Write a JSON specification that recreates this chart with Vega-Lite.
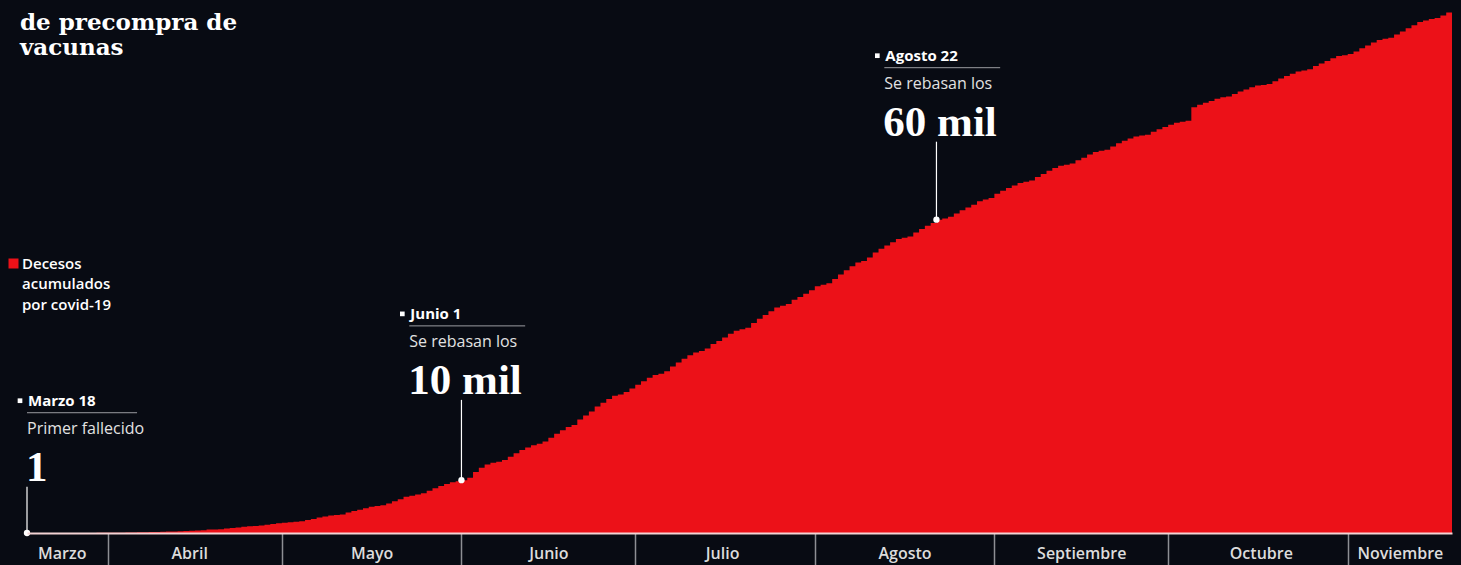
{
  "$schema": "https://vega.github.io/schema/vega-lite/v6.json",
  "width": 1425,
  "height": 533,
  "autosize": {"type": "none"},
  "padding": {"left": 27, "right": 9, "top": 0, "bottom": 32},
  "background": "#080b13",
  "config": {"view": {"stroke": null}},
  "title": {
    "text": ["de precompra de", "vacunas"],
    "anchor": "start",
    "frame": "group",
    "orient": "top",
    "offset": 0,
    "baseline": "top",
    "dx": -7,
    "dy": 60,
    "lineHeight": 25,
    "font": "DejaVu Serif",
    "fontSize": 23,
    "fontWeight": "bold",
    "color": "#ffffff"
  },
  "datasets": {
    "decesos": [
      {"fecha": "2020-03-18", "n": 1}, {"fecha": "2020-03-19", "n": 2}, {"fecha": "2020-03-20", "n": 2}, {"fecha": "2020-03-21", "n": 2},
      {"fecha": "2020-03-22", "n": 4}, {"fecha": "2020-03-23", "n": 4}, {"fecha": "2020-03-24", "n": 5}, {"fecha": "2020-03-25", "n": 6},
      {"fecha": "2020-03-26", "n": 8}, {"fecha": "2020-03-27", "n": 12}, {"fecha": "2020-03-28", "n": 16}, {"fecha": "2020-03-29", "n": 20},
      {"fecha": "2020-03-30", "n": 28}, {"fecha": "2020-03-31", "n": 29},
      {"fecha": "2020-04-01", "n": 37}, {"fecha": "2020-04-02", "n": 50}, {"fecha": "2020-04-03", "n": 60}, {"fecha": "2020-04-04", "n": 79},
      {"fecha": "2020-04-05", "n": 94}, {"fecha": "2020-04-06", "n": 125}, {"fecha": "2020-04-07", "n": 141}, {"fecha": "2020-04-08", "n": 174},
      {"fecha": "2020-04-09", "n": 194}, {"fecha": "2020-04-10", "n": 233}, {"fecha": "2020-04-11", "n": 273}, {"fecha": "2020-04-12", "n": 296},
      {"fecha": "2020-04-13", "n": 332}, {"fecha": "2020-04-14", "n": 406}, {"fecha": "2020-04-15", "n": 449}, {"fecha": "2020-04-16", "n": 486},
      {"fecha": "2020-04-17", "n": 546}, {"fecha": "2020-04-18", "n": 650}, {"fecha": "2020-04-19", "n": 686}, {"fecha": "2020-04-20", "n": 712},
      {"fecha": "2020-04-21", "n": 857}, {"fecha": "2020-04-22", "n": 970}, {"fecha": "2020-04-23", "n": 1069}, {"fecha": "2020-04-24", "n": 1221},
      {"fecha": "2020-04-25", "n": 1305}, {"fecha": "2020-04-26", "n": 1351}, {"fecha": "2020-04-27", "n": 1434}, {"fecha": "2020-04-28", "n": 1569},
      {"fecha": "2020-04-29", "n": 1732}, {"fecha": "2020-04-30", "n": 1859},
      {"fecha": "2020-05-01", "n": 1972}, {"fecha": "2020-05-02", "n": 2061}, {"fecha": "2020-05-03", "n": 2154}, {"fecha": "2020-05-04", "n": 2271},
      {"fecha": "2020-05-05", "n": 2507}, {"fecha": "2020-05-06", "n": 2704}, {"fecha": "2020-05-07", "n": 2961}, {"fecha": "2020-05-08", "n": 3160},
      {"fecha": "2020-05-09", "n": 3353}, {"fecha": "2020-05-10", "n": 3465}, {"fecha": "2020-05-11", "n": 3573}, {"fecha": "2020-05-12", "n": 3926},
      {"fecha": "2020-05-13", "n": 4220}, {"fecha": "2020-05-14", "n": 4477}, {"fecha": "2020-05-15", "n": 4767}, {"fecha": "2020-05-16", "n": 5045},
      {"fecha": "2020-05-17", "n": 5177}, {"fecha": "2020-05-18", "n": 5332}, {"fecha": "2020-05-19", "n": 5666}, {"fecha": "2020-05-20", "n": 6090},
      {"fecha": "2020-05-21", "n": 6510}, {"fecha": "2020-05-22", "n": 6989}, {"fecha": "2020-05-23", "n": 7179}, {"fecha": "2020-05-24", "n": 7394},
      {"fecha": "2020-05-25", "n": 7633}, {"fecha": "2020-05-26", "n": 8134}, {"fecha": "2020-05-27", "n": 8597}, {"fecha": "2020-05-28", "n": 9044},
      {"fecha": "2020-05-29", "n": 9415}, {"fecha": "2020-05-30", "n": 9779}, {"fecha": "2020-05-31", "n": 9930},
      {"fecha": "2020-06-01", "n": 10167}, {"fecha": "2020-06-02", "n": 10637}, {"fecha": "2020-06-03", "n": 11729}, {"fecha": "2020-06-04", "n": 12545},
      {"fecha": "2020-06-05", "n": 13170}, {"fecha": "2020-06-06", "n": 13511}, {"fecha": "2020-06-07", "n": 13699}, {"fecha": "2020-06-08", "n": 14053},
      {"fecha": "2020-06-09", "n": 14649}, {"fecha": "2020-06-10", "n": 15357}, {"fecha": "2020-06-11", "n": 15944}, {"fecha": "2020-06-12", "n": 16448},
      {"fecha": "2020-06-13", "n": 16872}, {"fecha": "2020-06-14", "n": 17141}, {"fecha": "2020-06-15", "n": 17580}, {"fecha": "2020-06-16", "n": 18310},
      {"fecha": "2020-06-17", "n": 19080}, {"fecha": "2020-06-18", "n": 19747}, {"fecha": "2020-06-19", "n": 20394}, {"fecha": "2020-06-20", "n": 20781},
      {"fecha": "2020-06-21", "n": 21825}, {"fecha": "2020-06-22", "n": 22584}, {"fecha": "2020-06-23", "n": 23377}, {"fecha": "2020-06-24", "n": 24324},
      {"fecha": "2020-06-25", "n": 25060}, {"fecha": "2020-06-26", "n": 25779}, {"fecha": "2020-06-27", "n": 26381}, {"fecha": "2020-06-28", "n": 26648},
      {"fecha": "2020-06-29", "n": 27121}, {"fecha": "2020-06-30", "n": 27769},
      {"fecha": "2020-07-01", "n": 28510}, {"fecha": "2020-07-02", "n": 29189}, {"fecha": "2020-07-03", "n": 29843}, {"fecha": "2020-07-04", "n": 30366},
      {"fecha": "2020-07-05", "n": 30639}, {"fecha": "2020-07-06", "n": 31119}, {"fecha": "2020-07-07", "n": 32014}, {"fecha": "2020-07-08", "n": 32796},
      {"fecha": "2020-07-09", "n": 33526}, {"fecha": "2020-07-10", "n": 34191}, {"fecha": "2020-07-11", "n": 34730}, {"fecha": "2020-07-12", "n": 35006},
      {"fecha": "2020-07-13", "n": 35491}, {"fecha": "2020-07-14", "n": 36327}, {"fecha": "2020-07-15", "n": 36906}, {"fecha": "2020-07-16", "n": 37574},
      {"fecha": "2020-07-17", "n": 38310}, {"fecha": "2020-07-18", "n": 38888}, {"fecha": "2020-07-19", "n": 39184}, {"fecha": "2020-07-20", "n": 39485},
      {"fecha": "2020-07-21", "n": 40400}, {"fecha": "2020-07-22", "n": 41190}, {"fecha": "2020-07-23", "n": 41908}, {"fecha": "2020-07-24", "n": 42645},
      {"fecha": "2020-07-25", "n": 43374}, {"fecha": "2020-07-26", "n": 43680}, {"fecha": "2020-07-27", "n": 44022}, {"fecha": "2020-07-28", "n": 44876},
      {"fecha": "2020-07-29", "n": 45361}, {"fecha": "2020-07-30", "n": 46000}, {"fecha": "2020-07-31", "n": 46688},
      {"fecha": "2020-08-01", "n": 47472}, {"fecha": "2020-08-02", "n": 47746}, {"fecha": "2020-08-03", "n": 48012}, {"fecha": "2020-08-04", "n": 48869},
      {"fecha": "2020-08-05", "n": 49698}, {"fecha": "2020-08-06", "n": 50517}, {"fecha": "2020-08-07", "n": 51311}, {"fecha": "2020-08-08", "n": 52006},
      {"fecha": "2020-08-09", "n": 52298}, {"fecha": "2020-08-10", "n": 53003}, {"fecha": "2020-08-11", "n": 53929}, {"fecha": "2020-08-12", "n": 54666},
      {"fecha": "2020-08-13", "n": 55293}, {"fecha": "2020-08-14", "n": 55908}, {"fecha": "2020-08-15", "n": 56543}, {"fecha": "2020-08-16", "n": 56757},
      {"fecha": "2020-08-17", "n": 57023}, {"fecha": "2020-08-18", "n": 57774}, {"fecha": "2020-08-19", "n": 58481}, {"fecha": "2020-08-20", "n": 59106},
      {"fecha": "2020-08-21", "n": 59610}, {"fecha": "2020-08-22", "n": 60254}, {"fecha": "2020-08-23", "n": 60480}, {"fecha": "2020-08-24", "n": 60800},
      {"fecha": "2020-08-25", "n": 61450}, {"fecha": "2020-08-26", "n": 62076}, {"fecha": "2020-08-27", "n": 62594}, {"fecha": "2020-08-28", "n": 63146},
      {"fecha": "2020-08-29", "n": 63819}, {"fecha": "2020-08-30", "n": 64158}, {"fecha": "2020-08-31", "n": 64414},
      {"fecha": "2020-09-01", "n": 65241}, {"fecha": "2020-09-02", "n": 65816}, {"fecha": "2020-09-03", "n": 66329}, {"fecha": "2020-09-04", "n": 66851},
      {"fecha": "2020-09-05", "n": 67326}, {"fecha": "2020-09-06", "n": 67558}, {"fecha": "2020-09-07", "n": 67781}, {"fecha": "2020-09-08", "n": 68484},
      {"fecha": "2020-09-09", "n": 69049}, {"fecha": "2020-09-10", "n": 69649}, {"fecha": "2020-09-11", "n": 70183}, {"fecha": "2020-09-12", "n": 70604},
      {"fecha": "2020-09-13", "n": 70821}, {"fecha": "2020-09-14", "n": 71049}, {"fecha": "2020-09-15", "n": 71678}, {"fecha": "2020-09-16", "n": 72179},
      {"fecha": "2020-09-17", "n": 72803}, {"fecha": "2020-09-18", "n": 73258}, {"fecha": "2020-09-19", "n": 73493}, {"fecha": "2020-09-20", "n": 73697},
      {"fecha": "2020-09-21", "n": 74348}, {"fecha": "2020-09-22", "n": 74949}, {"fecha": "2020-09-23", "n": 75439}, {"fecha": "2020-09-24", "n": 75844},
      {"fecha": "2020-09-25", "n": 76243}, {"fecha": "2020-09-26", "n": 76430}, {"fecha": "2020-09-27", "n": 76603}, {"fecha": "2020-09-28", "n": 77163},
      {"fecha": "2020-09-29", "n": 77646}, {"fecha": "2020-09-30", "n": 78078},
      {"fecha": "2020-10-01", "n": 78492}, {"fecha": "2020-10-02", "n": 78880}, {"fecha": "2020-10-03", "n": 79088}, {"fecha": "2020-10-04", "n": 79280},
      {"fecha": "2020-10-05", "n": 81877}, {"fecha": "2020-10-06", "n": 82348}, {"fecha": "2020-10-07", "n": 82726}, {"fecha": "2020-10-08", "n": 83096},
      {"fecha": "2020-10-09", "n": 83497}, {"fecha": "2020-10-10", "n": 83781}, {"fecha": "2020-10-11", "n": 83945}, {"fecha": "2020-10-12", "n": 84420},
      {"fecha": "2020-10-13", "n": 84898}, {"fecha": "2020-10-14", "n": 85285}, {"fecha": "2020-10-15", "n": 85704}, {"fecha": "2020-10-16", "n": 86059},
      {"fecha": "2020-10-17", "n": 86167}, {"fecha": "2020-10-18", "n": 86338}, {"fecha": "2020-10-19", "n": 86893}, {"fecha": "2020-10-20", "n": 87415},
      {"fecha": "2020-10-21", "n": 87894}, {"fecha": "2020-10-22", "n": 88312}, {"fecha": "2020-10-23", "n": 88743}, {"fecha": "2020-10-24", "n": 88924},
      {"fecha": "2020-10-25", "n": 89171}, {"fecha": "2020-10-26", "n": 89814}, {"fecha": "2020-10-27", "n": 90309}, {"fecha": "2020-10-28", "n": 90773},
      {"fecha": "2020-10-29", "n": 91289}, {"fecha": "2020-10-30", "n": 91753}, {"fecha": "2020-10-31", "n": 91895},
      {"fecha": "2020-11-01", "n": 92100}, {"fecha": "2020-11-02", "n": 92593}, {"fecha": "2020-11-03", "n": 93228}, {"fecha": "2020-11-04", "n": 93772},
      {"fecha": "2020-11-05", "n": 94323}, {"fecha": "2020-11-06", "n": 94808}, {"fecha": "2020-11-07", "n": 95027}, {"fecha": "2020-11-08", "n": 95225},
      {"fecha": "2020-11-09", "n": 95842}, {"fecha": "2020-11-10", "n": 96430}, {"fecha": "2020-11-11", "n": 97056}, {"fecha": "2020-11-12", "n": 97624},
      {"fecha": "2020-11-13", "n": 98259}, {"fecha": "2020-11-14", "n": 98542}, {"fecha": "2020-11-15", "n": 98861}, {"fecha": "2020-11-16", "n": 99026},
      {"fecha": "2020-11-17", "n": 99528}, {"fecha": "2020-11-18", "n": 100104}, {"fecha": "2020-11-19", "n": 100823}
    ],
    "hitos": [
      {"fecha": "2020-03-18", "n": 1, "fl": "2020-03-18", "ff": "2020-04-06", "ny": 8900, "cab": "Marzo 18", "sub": "Primer fallecido", "num": "1"},
      {"fecha": "2020-06-01", "n": 10167, "fl": "2020-05-23", "ff": "2020-06-12", "ny": 25600, "cab": "Junio 1", "sub": "Se rebasan los", "num": "10 mil"},
      {"fecha": "2020-08-22", "n": 60254, "fl": "2020-08-13", "ff": "2020-09-02", "ny": 75250, "cab": "Agosto 22", "sub": "Se rebasan los", "num": "60 mil"}
    ]
  },
  "layer": [
    {
      "data": {"name": "decesos"},
      "mark": {"type": "area", "interpolate": "step-after", "opacity": 1},
      "encoding": {
        "x": {
          "field": "fecha",
          "type": "temporal",
          "scale": {"type": "utc", "domain": [{"year": 2020, "month": 3, "date": 18, "utc": true}, {"year": 2020, "month": 11, "date": 19, "utc": true}]},
          "axis": {
            "orient": "bottom",
            "title": null,
            "values": [
              {"year": 2020, "month": 4, "date": 1, "utc": true},
              {"year": 2020, "month": 5, "date": 1, "utc": true},
              {"year": 2020, "month": 6, "date": 1, "utc": true},
              {"year": 2020, "month": 7, "date": 1, "utc": true},
              {"year": 2020, "month": 8, "date": 1, "utc": true},
              {"year": 2020, "month": 9, "date": 1, "utc": true},
              {"year": 2020, "month": 10, "date": 1, "utc": true},
              {"year": 2020, "month": 11, "date": 1, "utc": true}
            ],
            "labels": false,
            "grid": false,
            "ticks": true,
            "tickSize": 32,
            "tickColor": "#8d8f94",
            "tickWidth": 1.5,
            "domain": true,
            "domainColor": "#f3d3d4",
            "domainWidth": 2,
            "zindex": 1
          }
        },
        "y": {"field": "n", "type": "quantitative", "scale": {"domain": [0, 102500], "nice": false, "zero": true}, "axis": null},
        "color": {
          "datum": "Decesos acumulados por covid-19",
          "scale": {"range": ["#ec1118"]},
          "legend": {
            "orient": "none",
            "legendX": -21,
            "legendY": 256,
            "padding": 0,
            "title": null,
            "symbolType": "square",
            "symbolSize": 100,
            "symbolStrokeWidth": 0,
            "symbolOpacity": 1,
            "labelExpr": "['Decesos', 'acumulados', 'por covid-19']",
            "labelColor": "#ffffff",
            "labelFont": "Open Sans",
            "labelFontSize": 15,
            "labelFontWeight": 600,
            "labelLimit": 0,
            "labelOffset": 1,
            "labelBaseline": "middle",
            "encode": {"labels": {"update": {"lineHeight": {"value": 20.5}}}}
          }
        }
      }
    },
    {
      "mark": {"type": "rule", "color": "#ececec", "strokeWidth": 2},
      "encoding": {
        "x": {
          "datum": {"year": 2020, "month": 11, "date": 19, "utc": true},
          "type": "temporal",
          "axis": {
            "orient": "bottom",
            "title": null,
            "values": [
              {"year": 2020, "month": 3, "date": 24, "utc": true},
              {"year": 2020, "month": 4, "date": 15, "utc": true},
              {"year": 2020, "month": 5, "date": 16, "hours": 12, "utc": true},
              {"year": 2020, "month": 6, "date": 16, "utc": true},
              {"year": 2020, "month": 7, "date": 16, "utc": true},
              {"year": 2020, "month": 8, "date": 16, "hours": 12, "utc": true},
              {"year": 2020, "month": 9, "date": 16, "utc": true},
              {"year": 2020, "month": 10, "date": 17, "utc": true},
              {"year": 2020, "month": 11, "date": 10, "utc": true}
            ],
            "labelExpr": "['Enero','Febrero','Marzo','Abril','Mayo','Junio','Julio','Agosto','Septiembre','Octubre','Noviembre','Diciembre'][utcmonth(datum.value)]",
            "ticks": false,
            "tickSize": 0,
            "domain": false,
            "grid": false,
            "labelPadding": 20,
            "labelBaseline": "middle",
            "labelAlign": "center",
            "labelFont": "Open Sans",
            "labelFontSize": 16,
            "labelFontWeight": 600,
            "labelColor": "#dcdcdc",
            "labelFlush": false,
            "labelOverlap": false,
            "labelBound": false
          }
        }
      }
    },
    {
      "data": {"name": "hitos"},
      "mark": {"type": "rule", "color": "#ffffff", "strokeWidth": 1.2},
      "encoding": {
        "x": {"field": "fecha", "type": "temporal", "axis": null},
        "y": {"field": "n", "type": "quantitative", "axis": null},
        "y2": {"field": "ny"}
      }
    },
    {
      "data": {"name": "hitos"},
      "mark": {"type": "point", "filled": true, "color": "#ffffff", "size": 40, "opacity": 1},
      "encoding": {
        "x": {"field": "fecha", "type": "temporal", "axis": null},
        "y": {"field": "n", "type": "quantitative", "axis": null}
      }
    },
    {
      "data": {"name": "hitos"},
      "mark": {"type": "rule", "color": "#9a9ca1", "strokeWidth": 1, "yOffset": -74},
      "encoding": {
        "x": {"field": "fl", "type": "temporal", "axis": null},
        "x2": {"field": "ff"},
        "y": {"field": "ny", "type": "quantitative", "axis": null}
      }
    },
    {
      "data": {"name": "hitos"},
      "mark": {"type": "point", "shape": "square", "filled": true, "color": "#ffffff", "size": 22, "opacity": 1, "xOffset": -7, "yOffset": -86},
      "encoding": {
        "x": {"field": "fl", "type": "temporal", "axis": null},
        "y": {"field": "ny", "type": "quantitative", "axis": null}
      }
    },
    {
      "data": {"name": "hitos"},
      "mark": {"type": "text", "align": "left", "baseline": "middle", "dx": 1, "dy": -86, "font": "Open Sans", "fontSize": 15, "fontWeight": "bold", "color": "#ffffff"},
      "encoding": {
        "x": {"field": "fl", "type": "temporal", "axis": null},
        "y": {"field": "ny", "type": "quantitative", "axis": null},
        "text": {"field": "cab"}
      }
    },
    {
      "data": {"name": "hitos"},
      "mark": {"type": "text", "align": "left", "baseline": "middle", "dx": 0, "dy": -58, "font": "Open Sans", "fontSize": 16, "color": "#e2e2e2"},
      "encoding": {
        "x": {"field": "fl", "type": "temporal", "axis": null},
        "y": {"field": "ny", "type": "quantitative", "axis": null},
        "text": {"field": "sub"}
      }
    },
    {
      "data": {"name": "hitos"},
      "mark": {"type": "text", "align": "left", "baseline": "alphabetic", "dx": -1, "dy": -6, "font": "Liberation Serif", "fontSize": 43, "fontWeight": "bold", "color": "#ffffff"},
      "encoding": {
        "x": {"field": "fl", "type": "temporal", "axis": null},
        "y": {"field": "ny", "type": "quantitative", "axis": null},
        "text": {"field": "num"}
      }
    }
  ],
  "resolve": {"axis": {"x": "independent"}}
}
